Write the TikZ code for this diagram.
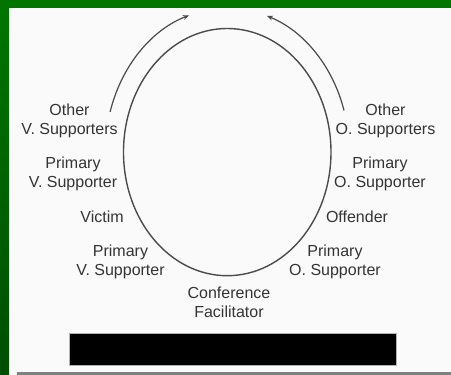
\documentclass[tikz,border=0pt]{standalone}
\usepackage{fontspec}
\setmainfont{Liberation Sans}
\usetikzlibrary{arrows.meta,shapes.geometric}
\definecolor{topgreen}{RGB}{0,118,0}
\definecolor{botgreen}{RGB}{0,78,0}
\definecolor{paper}{RGB}{250,250,250}
\definecolor{ink}{RGB}{52,52,52}
\definecolor{linec}{RGB}{75,75,75}
\definecolor{strip}{RGB}{128,128,128}
\tikzset{
  lbl/.style={align=center, inner sep=0pt, text=ink, font=\fontsize{16}{19}\selectfont},
  ring/.style={draw=linec, line width=1.4pt, ellipse, inner sep=0pt},
  flow/.style={draw=linec, line width=1.2pt, -{Stealth[length=6pt,width=5pt]}}
}
\begin{document}
\begin{tikzpicture}[x=1pt,y=1pt]
\useasboundingbox (0,0) rectangle (451,375);
% background and frame
\fill[paper] (0,0) rectangle (451,375);
\fill[strip] (17,0) rectangle (451,3);
\shade[top color=topgreen, bottom color=botgreen] (0,0) rectangle (9,375);
\fill[topgreen] (0,367) rectangle (451,375);
% ellipse
\node[ring, minimum width=207.5pt, minimum height=247.2pt] (circ) at (227.25,222.9) {};
% arrows
\coordinate (la) at ({227.25+122*cos(163.8)},{222.9+144*sin(163.8)});
\coordinate (ra) at ({227.25+122*cos(16.8)},{222.9+144*sin(16.8)});
\draw[flow] (la) arc[start angle=163.8, end angle=108.3, x radius=122, y radius=144];
\draw[flow] (ra) arc[start angle=16.8, end angle=71, x radius=122, y radius=144];
% labels
\node[lbl] (ovs) at (69.5,254) {Other\\V. Supporters};
\node[lbl] (pvs) at (73,201) {Primary\\V. Supporter};
\node[lbl] (vic) at (102,158.5) {Victim};
\node[lbl] (pvs2) at (120.5,113) {Primary\\V. Supporter};
\node[lbl] (cf) at (229,73) {Conference\\Facilitator};
\node[lbl] (pos2) at (335,113) {Primary\\O. Supporter};
\node[lbl] (off) at (357,158.5) {Offender};
\node[lbl] (pos) at (380,201) {Primary\\O. Supporter};
\node[lbl] (oos) at (385.5,254) {Other\\O. Supporters};
% black bar
\node[fill=black, draw=gray!60, line width=0.6pt, minimum width=327pt, minimum height=32pt, inner sep=0pt] (bar) at (232.5,26) {};
\end{tikzpicture}
\end{document}
